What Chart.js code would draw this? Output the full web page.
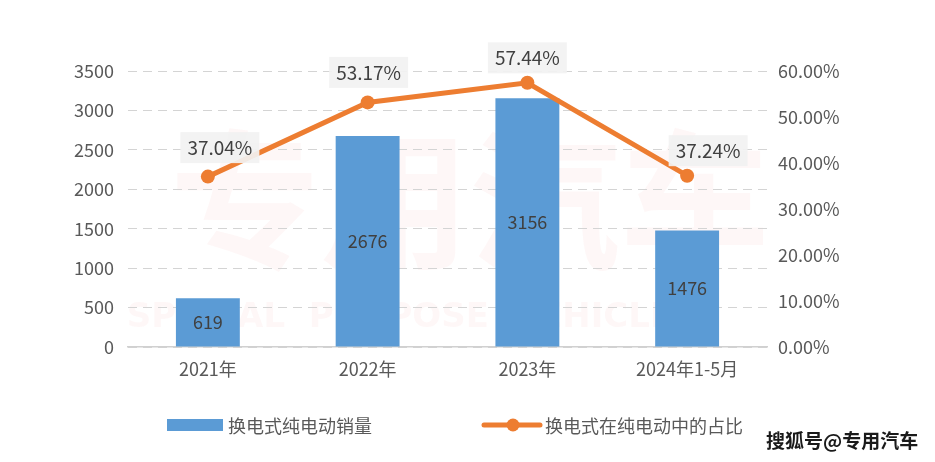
<!DOCTYPE html>
<html>
<head>
<meta charset="utf-8">
<script src="https://cdn.jsdelivr.net/npm/chart.js@4.4.1/dist/chart.umd.min.js"></script>
<style>
html,body{margin:0;padding:0;background:#fff;}
#wrap{position:relative;width:935px;height:462px;}
</style>
</head>
<body>
<div id="wrap"><canvas id="c" width="935" height="462"></canvas></div>
<script>
const categories = ['2021年', '2022年', '2023年', '2024年1-5月'];
const salesValues = [619, 2676, 3156, 1476];
const shareValues = [37.04, 53.17, 57.44, 37.24];
const salesLabel = '换电式纯电动销量';
const shareLabel = '换电式在纯电动中的占比';
const leftTicks = [0, 500, 1000, 1500, 2000, 2500, 3000, 3500];
const rightTicks = [0, 10, 20, 30, 40, 50, 60];
const watermarkText = '搜狐号@专用汽车';

const FONT = "'Noto Sans CJK SC', 'Microsoft YaHei', sans-serif";
const BLUE = '#5b9bd5';
const ORANGE = '#ed7d31';
const TXT = '#595959';
const shareLabelOffsets = [[12, -29], [1, -30], [0, -25], [21, -25]];

const bgPlugin = {
  id: 'bgmark',
  beforeDraw(chart) {
    const ctx = chart.ctx;
    ctx.save();
    ctx.fillStyle = 'rgba(235,90,90,0.05)';
    ctx.font = "bold 150px " + FONT;
    ctx.textAlign = 'center';
    ctx.textBaseline = 'middle';
    ctx.fillText('专用汽车', 470, 200);
    ctx.font = "bold 34px 'DejaVu Sans', sans-serif";
    ctx.fillText('SPECIAL  PURPOSE  VEHICLE', 400, 318);
    ctx.restore();
  }
};

const labelPlugin = {
  id: 'labels',
  afterDatasetsDraw(chart) {
    const ctx = chart.ctx;
    ctx.save();
    ctx.textAlign = 'center';
    ctx.textBaseline = 'middle';
    ctx.font = "18px " + FONT;
    const barMeta = chart.getDatasetMeta(1);
    barMeta.data.forEach((bar, i) => {
      ctx.fillStyle = '#404040';
      ctx.fillText(String(salesValues[i]), bar.x, (bar.y + bar.base) / 2);
    });
    ctx.font = "19px " + FONT;
    const lineMeta = chart.getDatasetMeta(0);
    lineMeta.data.forEach((pt, i) => {
      const txt = shareValues[i].toFixed(2) + '%';
      const cx = pt.x + shareLabelOffsets[i][0];
      const cy = pt.y + shareLabelOffsets[i][1];
      const w = ctx.measureText(txt).width + 14;
      const h = 31;
      ctx.fillStyle = 'rgba(242,242,242,0.92)';
      ctx.fillRect(cx - w / 2, cy - h / 2, w, h);
      ctx.fillStyle = '#404040';
      ctx.fillText(txt, cx, cy);
    });
    ctx.restore();
  }
};

const legendPlugin = {
  id: 'customLegend',
  afterDraw(chart) {
    const ctx = chart.ctx;
    ctx.save();
    ctx.font = "18px " + FONT;
    ctx.textBaseline = 'middle';
    ctx.textAlign = 'left';
    const y = 425;
    ctx.fillStyle = BLUE;
    ctx.fillRect(167, y - 6, 56, 12);
    ctx.fillStyle = TXT;
    ctx.fillText(salesLabel, 228, y + 1);
    ctx.strokeStyle = ORANGE;
    ctx.lineWidth = 5;
    ctx.lineCap = 'round';
    ctx.beginPath();
    ctx.moveTo(484, y);
    ctx.lineTo(540, y);
    ctx.stroke();
    ctx.fillStyle = ORANGE;
    ctx.beginPath();
    ctx.arc(513, y, 6.5, 0, Math.PI * 2);
    ctx.fill();
    ctx.fillStyle = TXT;
    ctx.fillText(shareLabel, 545, y + 1);
    // watermark
    ctx.font = "bold 19px " + FONT;
    ctx.textAlign = 'left';
    ctx.lineWidth = 3;
    ctx.lineJoin = 'round';
    ctx.strokeStyle = '#ffffff';
    ctx.strokeText(watermarkText, 766, 441);
    ctx.fillStyle = '#1a1a1a';
    ctx.fillText(watermarkText, 766, 441);
    ctx.restore();
  }
};

new Chart(document.getElementById('c'), {
  data: {
    labels: categories,
    datasets: [
      {
        type: 'line',
        label: shareLabel,
        data: shareValues,
        yAxisID: 'y2',
        borderColor: ORANGE,
        backgroundColor: ORANGE,
        borderWidth: 5,
        pointRadius: 7,
        pointBackgroundColor: ORANGE,
        pointBorderWidth: 0,
        tension: 0,
        order: 0
      },
      {
        type: 'bar',
        label: salesLabel,
        data: salesValues,
        yAxisID: 'y',
        backgroundColor: BLUE,
        categoryPercentage: 0.8,
        barPercentage: 0.5,
        order: 1
      }
    ]
  },
  options: {
    responsive: false,
    animation: false,
    devicePixelRatio: 1,
    layout: { padding: { top: 71, left: 0, right: 0, bottom: 0 } },
    plugins: { legend: { display: false }, tooltip: { enabled: false } },
    scales: {
      x: {
        grid: { display: false, drawTicks: false },
        border: { display: true, color: '#d0d0d0', width: 1.5 },
        ticks: { color: TXT, font: { family: FONT, size: 18 }, padding: 11 },
        afterFit(s) { s.height = 115; }
      },
      y: {
        position: 'left',
        min: 0, max: 3500,
        afterBuildTicks(s) { s.ticks = leftTicks.map(v => ({ value: v })); },
        grid: { color: '#d4d4d4', lineWidth: 1, drawTicks: false },
        border: { display: false, dash: [9, 6] },
        ticks: {
          color: TXT, font: { family: FONT, size: 18 }, padding: 14,
          callback: (v) => String(v)
        },
        afterFit(s) { s.width = 128; }
      },
      y2: {
        position: 'right',
        min: 0, max: 60,
        afterBuildTicks(s) { s.ticks = rightTicks.map(v => ({ value: v })); },
        grid: { display: false, drawTicks: false },
        border: { display: false },
        ticks: {
          color: TXT, font: { family: FONT, size: 18 }, padding: 11,
          callback: (v) => Number(v).toFixed(2) + '%'
        },
        afterFit(s) { s.width = 168; }
      }
    }
  },
  plugins: [bgPlugin, labelPlugin, legendPlugin]
});
</script>
</body>
</html>
